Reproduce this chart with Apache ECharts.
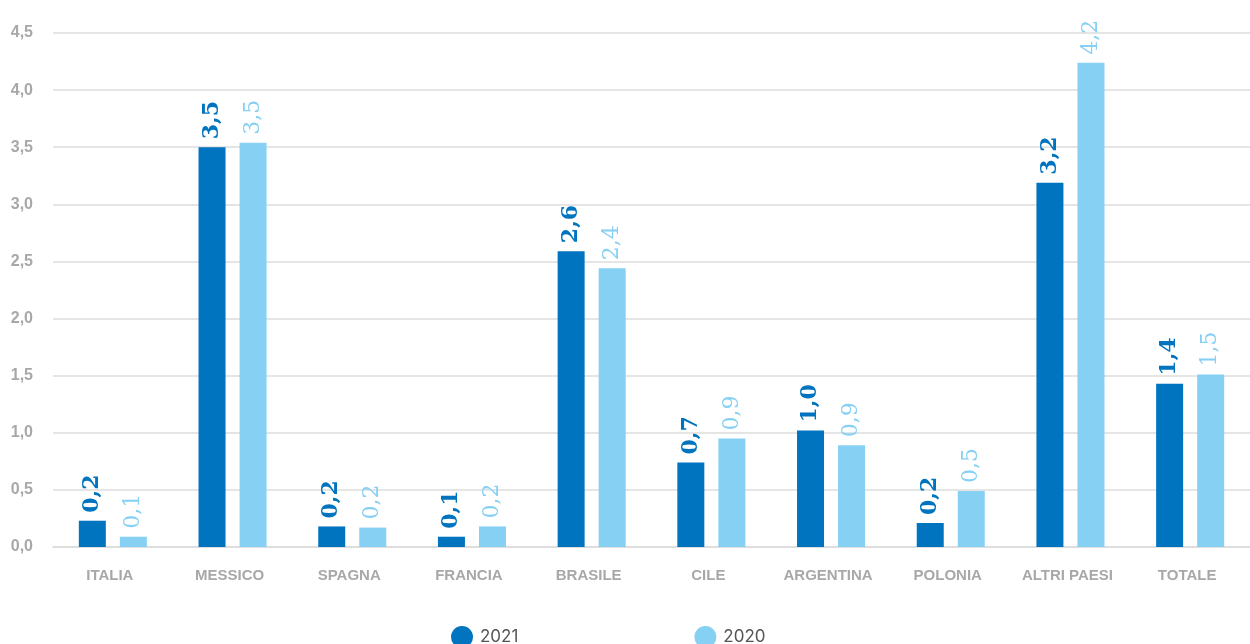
<!DOCTYPE html>
<html>
<head>
<meta charset="utf-8">
<script src="https://cdn.jsdelivr.net/npm/echarts@6/dist/echarts.min.js"></script>
<style>
  html, body { margin: 0; padding: 0; background: #ffffff; }
  #chart { width: 1250px; height: 644px; }
</style>
</head>
<body>
<div id="chart"></div>
<script>
// Paesi e valori per anno
const categories = ['ITALIA', 'MESSICO', 'SPAGNA', 'FRANCIA', 'BRASILE', 'CILE', 'ARGENTINA', 'POLONIA', 'ALTRI PAESI', 'TOTALE'];
const values2021 = [0.23, 3.50, 0.18, 0.09, 2.59, 0.74, 1.02, 0.21, 3.19, 1.43];
const values2020 = [0.09, 3.54, 0.17, 0.18, 2.44, 0.95, 0.89, 0.49, 4.24, 1.51];
const seriesNames = ['2021', '2020'];

const dark = '#0074bf';
const light = '#86d0f4';

function fmt(v) { return v.toFixed(1).replace('.', ','); }

function makeSeries(name, data, color, weight) {
  return {
    name: name,
    type: 'bar',
    data: data,
    barWidth: 27,
    barGap: '52%',
    itemStyle: { color: color },
    label: {
      show: true,
      position: 'top',
      rotate: 90,
      align: 'left',
      verticalAlign: 'middle',
      distance: 8,
      color: color,
      fontFamily: 'DejaVu Serif',
      fontWeight: weight,
      fontSize: 22,
      formatter: p => fmt(p.value)
    }
  };
}

const chart = echarts.init(document.getElementById('chart'));
chart.setOption({
  animation: false,
  grid: { left: 53, right: -3, top: 33, bottom: 97, containLabel: false },
  legend: {
    top: 621,
    left: 446,
    icon: 'circle',
    itemWidth: 22,
    itemHeight: 22,
    itemGap: 176,
    textStyle: { color: '#555', fontSize: 17, fontFamily: 'Inter', padding: [0, 0, 0, 2] },
    data: seriesNames
  },
  xAxis: {
    type: 'category',
    data: categories,
    axisLine: { show: true, lineStyle: { color: '#dcdcdc', width: 1.5 } },
    axisTick: { show: false },
    axisLabel: {
      color: '#a8a8a8', fontWeight: 'bold', fontSize: 15, fontFamily: 'Liberation Sans',
      margin: 21, padding: [0, 6, 0, 0]
    }
  },
  yAxis: {
    type: 'value',
    min: 0,
    max: 4.5,
    interval: 0.5,
    axisLine: { show: false },
    axisTick: { show: false },
    splitLine: { lineStyle: { color: '#dcdcdc', width: 1.5 } },
    axisLabel: {
      color: '#a8a8a8', fontWeight: 'bold', fontSize: 16, fontFamily: 'Liberation Sans', margin: 20,
      formatter: v => v.toFixed(1).replace('.', ',')
    }
  },
  series: [
    makeSeries(seriesNames[0], values2021, dark, 'bold'),
    makeSeries(seriesNames[1], values2020, light, 'normal')
  ]
});
</script>
</body>
</html>
